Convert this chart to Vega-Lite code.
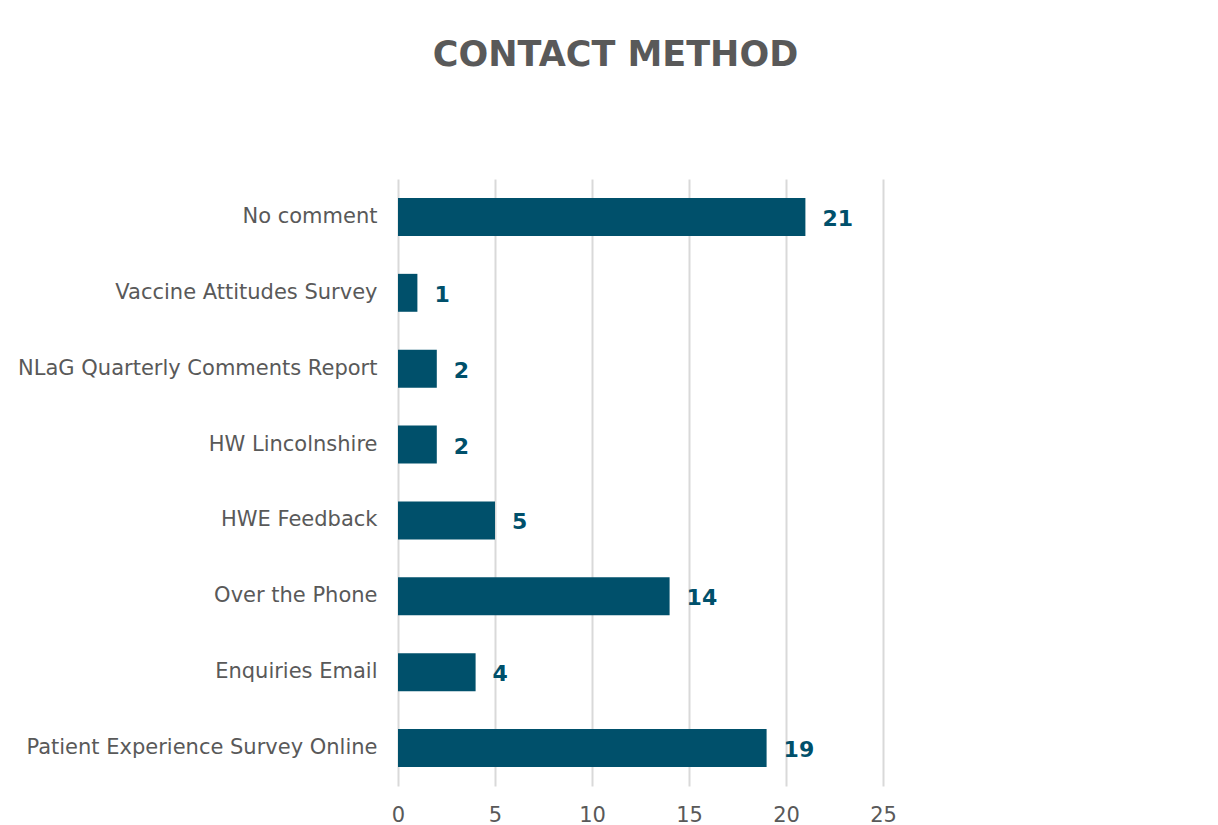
{
  "$schema": "https://vega.github.io/schema/vega-lite/v6.json",
  "autosize": {"type": "none"},
  "width": 485,
  "height": 607,
  "padding": {"left": 398, "top": 179, "right": 335, "bottom": 39},
  "background": "white",
  "title": {
    "text": "CONTACT METHOD",
    "font": "DejaVu Sans",
    "fontSize": 35,
    "fontWeight": "bold",
    "color": "#595959",
    "anchor": "middle",
    "frame": "group",
    "dx": -25,
    "offset": 106
  },
  "data": {
    "values": [
      {"method": "No comment", "count": 21},
      {"method": "Vaccine Attitudes Survey", "count": 1},
      {"method": "NLaG Quarterly Comments Report", "count": 2},
      {"method": "HW Lincolnshire", "count": 2},
      {"method": "HWE Feedback", "count": 5},
      {"method": "Over the Phone", "count": 14},
      {"method": "Enquiries Email", "count": 4},
      {"method": "Patient Experience Survey Online", "count": 19}
    ]
  },
  "encoding": {
    "y": {
      "field": "method",
      "type": "nominal",
      "sort": null,
      "scale": {"paddingInner": 0.5, "paddingOuter": 0.25},
      "axis": {
        "title": null,
        "ticks": false,
        "domain": false,
        "labelFont": "DejaVu Sans",
        "labelFontSize": 21,
        "labelColor": "#595959",
        "labelPadding": 21,
        "labelLimit": 500
      }
    },
    "x": {
      "field": "count",
      "type": "quantitative",
      "scale": {"domain": [0, 25]},
      "axis": {
        "title": null,
        "values": [0, 5, 10, 15, 20, 25],
        "ticks": false,
        "domain": false,
        "grid": true,
        "gridColor": "#d9d9d9",
        "gridWidth": 2,
        "labelFlush": false,
        "labelFont": "DejaVu Sans",
        "labelFontSize": 21,
        "labelColor": "#595959",
        "labelPadding": 18
      }
    }
  },
  "layer": [
    {"mark": {"type": "bar", "color": "#00506b"}},
    {
      "mark": {
        "type": "text",
        "align": "left",
        "baseline": "middle",
        "dx": 17,
        "dy": 2,
        "font": "DejaVu Sans",
        "fontSize": 22,
        "fontWeight": "bold",
        "color": "#00506b"
      },
      "encoding": {"text": {"field": "count", "type": "quantitative"}}
    }
  ],
  "config": {"view": {"stroke": null}}
}
